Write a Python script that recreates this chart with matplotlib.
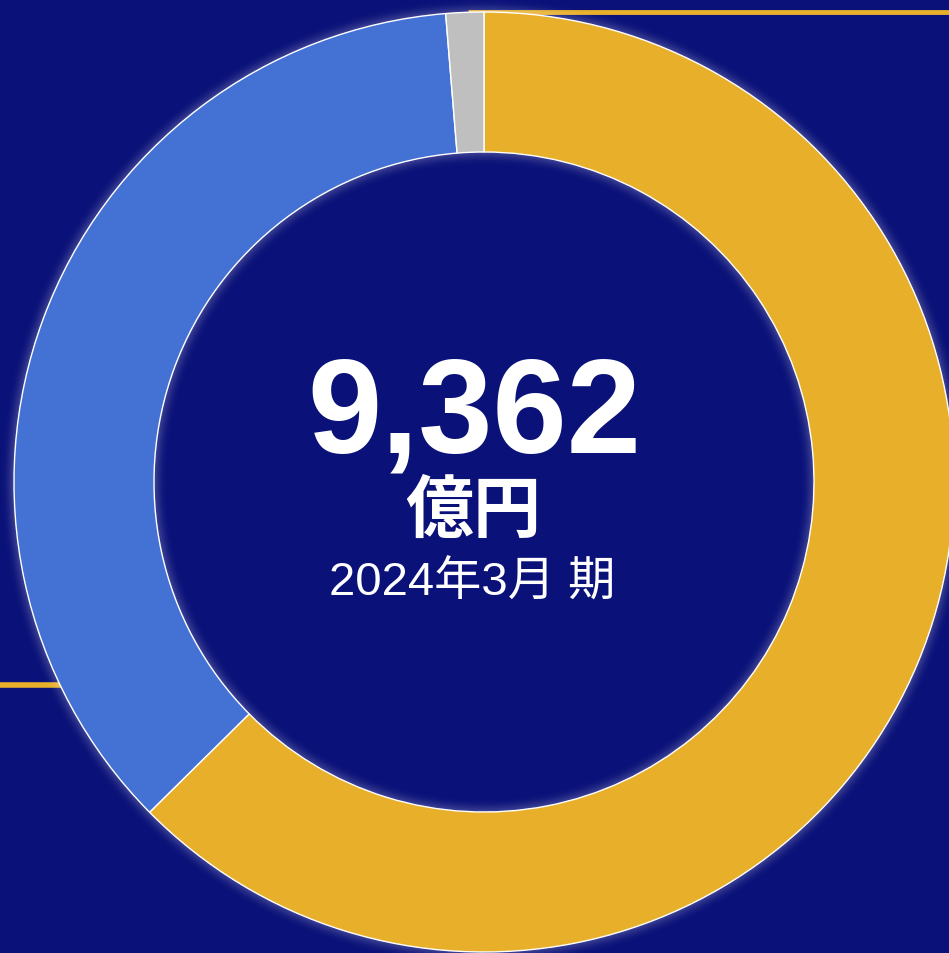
import matplotlib.pyplot as plt
from matplotlib.patches import Wedge

# segment shares (%), clockwise from 12 o'clock
labels = ['A', 'B', 'Other']
shares = [62.6, 36.1, 1.3]
colors = ['#E8B02A', '#4472D4', '#BFBFBF']

total_text = '9,362'
unit_text = '億円'
period_text = '2024年3月 期'

bg = '#0A1178'
W, H = 949, 954
cx, cy = 484, H - 483
r_out, r_in = 470, 330

fig = plt.figure(figsize=(W / 100, H / 100), dpi=100, facecolor=bg)
ax = fig.add_axes([0, 0, 1, 1])
ax.set_facecolor(bg)

# leader lines
ax.plot([468, W], [H - 12.5, H - 12.5], color='#E8B02A', lw=3.5, zorder=1, solid_capstyle='butt')
ax.plot([0, 70], [H - 685.5, H - 685.5], color='#E8B02A', lw=4, zorder=1, solid_capstyle='butt')

# soft white glow outside the ring and inside the hole
n = 14
for k in range(n):
    a = 0.22 * (1 - k / n) ** 2
    ax.add_patch(Wedge((cx, cy), r_out + k + 1, 0, 360, width=1, facecolor='white',
                       alpha=a, lw=0, zorder=2))
    ax.add_patch(Wedge((cx, cy), r_in - k, 0, 360, width=1, facecolor='white',
                       alpha=a, lw=0, zorder=2))

ax.pie(shares, colors=colors, startangle=90, counterclock=False,
       center=(cx, cy), radius=r_out, frame=True,
       wedgeprops=dict(width=r_out - r_in, edgecolor='white', linewidth=1))
ax.set_xlim(0, W)
ax.set_ylim(0, H)
ax.set_aspect('equal')
ax.axis('off')

ax.text(474, H - 453, total_text, ha='center', va='baseline', color='white',
        fontsize=96, fontweight='bold', family=['Liberation Sans', 'DejaVu Sans'])
ax.text(473, H - 512, unit_text, ha='center', va='center', color='white',
        fontsize=49, fontweight='bold', family=['Noto Sans CJK JP', 'DejaVu Sans'])
ax.text(472, H - 583, period_text, ha='center', va='center', color='white',
        fontsize=34, family=['Liberation Sans', 'Noto Sans CJK JP'])

fig.savefig('out.png', dpi=100, facecolor=bg)
